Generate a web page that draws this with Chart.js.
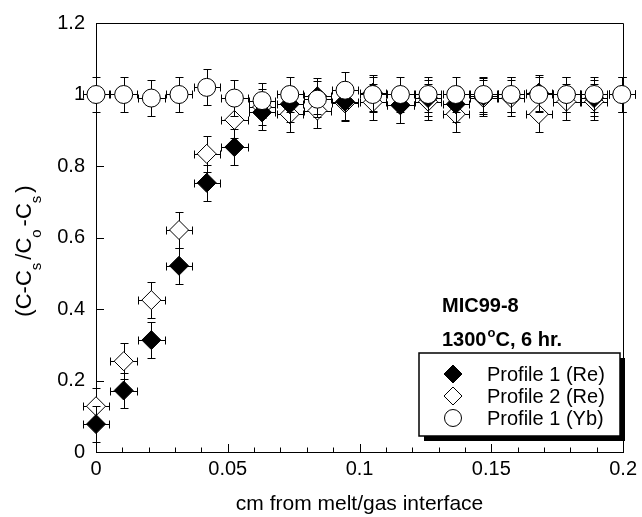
<!DOCTYPE html>
<html><head><meta charset="utf-8">
<script src="https://cdn.jsdelivr.net/npm/chart.js@4/dist/chart.umd.min.js"></script>
<style>html,body{margin:0;padding:0;background:#fff}canvas{display:block}</style>
</head><body>
<canvas id="c" width="642" height="517"></canvas>
<script>
// ---- data ----
const xPos = [0, 0.0105, 0.021, 0.0315, 0.042, 0.0525, 0.063, 0.0735, 0.084, 0.0945,
              0.105, 0.1155, 0.126, 0.1365, 0.147, 0.1575, 0.168, 0.1785, 0.189, 0.1995];
const profile1Re = [0.078, 0.172, 0.313, 0.521, 0.753, 0.853, 0.95, 0.973, 0.995, 0.98,
                    1.005, 0.97, 0.99, 0.973, 0.995, 1.0, 1.005, 1.0, 0.99, 1.0];
const profile2Re = [0.128, 0.254, 0.425, 0.621, 0.834, 0.929, 0.965, 0.945, 0.955, 0.975,
                    0.978, 0.97, 0.98, 0.945, 0.99, 0.99, 0.945, 0.98, 0.98, 1.0];
const profile1Yb = [1.0, 1.0, 0.99, 1.0, 1.02, 0.99, 0.983, 1.0, 0.987, 1.012,
                    1.0, 1.0, 1.0, 1.0, 1.0, 1.0, 1.0, 1.0, 1.0, 1.0];
const xError = [0.005, 0.005, 0.005];
const yError = [0.05, 0.05, 0.05];
const seriesNames = ['Profile 1 (Re)', 'Profile 2 (Re)', 'Profile 1 (Yb)'];
const xMajorLabels = ['0', '0.05', '0.1', '0.15', '0.2'];
const yTickLabels = ['0', '0.2', '0.4', '0.6', '0.8', '1', '1.2'];
const xTitle = 'cm from melt/gas interface';
const annot1 = 'MIC99-8';

const FONT = '"Liberation Sans", Arial, Helvetica, sans-serif';
Chart.defaults.font.family = FONT;
Chart.defaults.color = '#000';

function pts(ys, s) { return xPos.map((x, i) => ({x: x, y: ys[i], ex: xError[s], ey: yError[s]})); }

const datasets = [
  {label: seriesNames[0], data: pts(profile1Re, 0), pointStyle: 'rectRot', pointRadius: 9.5,
   backgroundColor: '#000', borderColor: '#000', borderWidth: 1, order: 1, clip: false},
  {label: seriesNames[1], data: pts(profile2Re, 1), pointStyle: 'rectRot', pointRadius: 9.5,
   backgroundColor: '#fff', borderColor: '#000', borderWidth: 1, order: 2, clip: false},
  {label: seriesNames[2], data: pts(profile1Yb, 2), pointStyle: 'circle', pointRadius: 9,
   backgroundColor: '#fff', borderColor: '#000', borderWidth: 1, order: 0, clip: false}
];

const errorBars = {
  id: 'errorBars',
  beforeDatasetDraw(chart, args) {
    const ds = chart.data.datasets[args.index];
    const xs = chart.scales.x, ys = chart.scales.y, ctx = chart.ctx;
    ctx.save();
    ctx.strokeStyle = '#000'; ctx.lineWidth = 1;
    const cap = 4;
    ds.data.forEach(p => {
      const px = Math.round(xs.getPixelForValue(p.x)) + 0.5;
      const py = Math.round(ys.getPixelForValue(p.y)) + 0.5;
      const yt = Math.round(ys.getPixelForValue(p.y + p.ey)) + 0.5;
      const yb = Math.round(ys.getPixelForValue(p.y - p.ey)) + 0.5;
      const xl = Math.round(xs.getPixelForValue(p.x - p.ex)) + 0.5;
      const xr = Math.round(xs.getPixelForValue(p.x + p.ex)) + 0.5;
      ctx.beginPath();
      ctx.moveTo(px, yt); ctx.lineTo(px, yb);
      ctx.moveTo(px - cap, yt); ctx.lineTo(px + cap, yt);
      ctx.moveTo(px - cap, yb); ctx.lineTo(px + cap, yb);
      ctx.moveTo(xl, py); ctx.lineTo(xr, py);
      ctx.moveTo(xl, py - cap); ctx.lineTo(xl, py + cap);
      ctx.moveTo(xr, py - cap); ctx.lineTo(xr, py + cap);
      ctx.stroke();
    });
    ctx.restore();
  }
};

const frameTicks = {
  id: 'frameTicks',
  beforeDatasetsDraw(chart) {
    const {ctx, chartArea: a, scales: {x, y}} = chart;
    ctx.save();
    ctx.strokeStyle = '#000'; ctx.lineWidth = 1;
    ctx.beginPath();
    ctx.rect(Math.round(a.left) + 0.5, Math.round(a.top) + 0.5,
             Math.round(a.right - a.left), Math.round(a.bottom - a.top));
    ctx.stroke();
    ctx.beginPath();
    x.ticks.forEach((t, i) => {
      const px = Math.round(x.getPixelForTick(i)) + 0.5;
      const len = (t.label && t.label !== '') ? 8 : 4.5;
      ctx.moveTo(px, a.bottom); ctx.lineTo(px, a.bottom - len);
    });
    y.ticks.forEach((t, i) => {
      const py = Math.round(y.getPixelForTick(i)) + 0.5;
      ctx.moveTo(a.left, py); ctx.lineTo(a.left + 8, py);
    });
    ctx.stroke();
    ctx.restore();
  }
};

const overlay = {
  id: 'overlay',
  afterDraw(chart) {
    const ctx = chart.ctx;
    ctx.save();
    ctx.fillStyle = '#000';
    // y-axis title with subscripts
    ctx.translate(31, 251);
    ctx.rotate(-Math.PI / 2);
    const big = '22px ' + FONT, small = '15px ' + FONT;
    const parts = [['(C-C', 0], ['s', 1], ['/C', 0], ['o', 1], ['-C', 0], ['s', 1], [')', 0]];
    const gap = 3;
    let total = 0;
    const w = parts.map(p => { ctx.font = p[1] ? small : big; const m = ctx.measureText(p[0]).width + (p[1] ? gap : 0); total += m; return m; });
    let cx = -total / 2;
    ctx.textBaseline = 'alphabetic'; ctx.textAlign = 'left';
    parts.forEach((p, i) => { ctx.font = p[1] ? small : big; ctx.fillText(p[0], cx, p[1] ? 10 : 0); cx += w[i]; });
    ctx.restore();

    ctx.save();
    ctx.fillStyle = '#000';
    ctx.textBaseline = 'alphabetic'; ctx.textAlign = 'left';
    ctx.font = 'bold 20px ' + FONT;
    ctx.fillText(annot1, 442, 312);
    let ax = 442;
    ctx.fillText('1300', ax, 346); ax += ctx.measureText('1300').width + 1;
    ctx.font = 'bold 13px ' + FONT;
    ctx.fillText('o', ax, 337); ax += ctx.measureText('o').width;
    ctx.font = 'bold 20px ' + FONT;
    ctx.fillText('C, 6 hr.', ax, 346);

    // legend box with shadow
    const L = 419, T = 353, W = 201, H = 83;
    ctx.fillRect(L + 5, T + 5, W, H);
    ctx.fillStyle = '#fff'; ctx.fillRect(L, T, W, H);
    ctx.strokeStyle = '#000'; ctx.lineWidth = 1.5; ctx.strokeRect(L, T, W, H);
    const rows = [374, 396, 418];
    chart.data.datasets.forEach((ds, i) => {
      const mx = 453, my = rows[i];
      ctx.lineWidth = 1;
      ctx.fillStyle = ds.backgroundColor; ctx.strokeStyle = '#000';
      Chart.helpers.drawPoint(ctx, {pointStyle: ds.pointStyle, radius: ds.pointStyle === 'circle' ? 8.5 : 9, rotation: 0, borderWidth: 1}, mx, my);
      ctx.fillStyle = '#000';
      ctx.font = '20px ' + FONT; ctx.textBaseline = 'middle';
      ctx.fillText(ds.label, 487, my + 1);
    });
    ctx.restore();
  }
};

new Chart(document.getElementById('c'), {
  type: 'scatter',
  data: {datasets},
  options: {
    responsive: false, animation: false, events: [],
    devicePixelRatio: 1,
    layout: {padding: {left: 0, top: 20, right: 16, bottom: 0}},
    plugins: {legend: {display: false}, tooltip: {enabled: false}},
    scales: {
      x: {
        type: 'linear', min: 0, max: 0.2,
        grid: {display: false, drawTicks: false},
        border: {display: true, color: '#000', width: 1},
        ticks: {stepSize: 0.01, maxTicksLimit: 100, autoSkip: false, maxRotation: 0, padding: 5,
                font: {size: 20}, color: '#000',
                callback: (v) => { const k = Math.round(v / 0.05); return Math.abs(v / 0.05 - k) < 1e-6 ? xMajorLabels[k] : ''; }},
        title: {display: true, text: xTitle, font: {size: 21}, color: '#000', padding: {top: 0, bottom: 0}},
        afterFit: (s) => { s.height = 65; }
      },
      y: {
        type: 'linear', min: 0, max: 1.2,
        grid: {display: false, drawTicks: false},
        border: {display: true, color: '#000', width: 1},
        ticks: {stepSize: 0.2, padding: 11, font: {size: 20}, color: '#000',
                callback: (v) => yTickLabels[Math.round(v / 0.2)]},
        afterFit: (s) => { s.width = 96; }
      }
    }
  },
  plugins: [errorBars, frameTicks, overlay]
});
</script>
</body></html>
